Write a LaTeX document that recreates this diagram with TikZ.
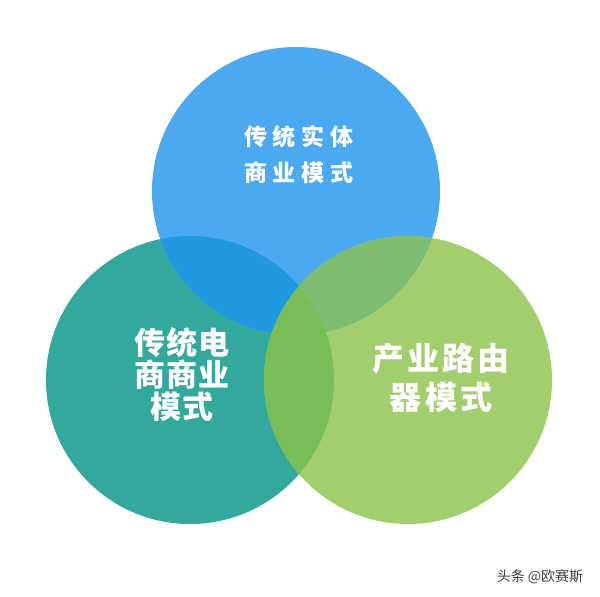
\documentclass[tikz,border=0pt]{standalone}
\usepackage{fontspec}
\newfontfamily\cjk{Noto Sans CJK SC}
\definecolor{cblue}{HTML}{4BA9F2}
\definecolor{cteal}{HTML}{33A89D}
\definecolor{cgreen}{HTML}{A3CE6D}
\definecolor{ctb}{HTML}{2199E0}
\definecolor{cbg}{HTML}{7EBD70}
\definecolor{ctg}{HTML}{79BD59}
\begin{document}
\begin{tikzpicture}[x=1pt,y=-1pt,
  lbl/.style={text=white,align=center,font=\cjk\bfseries},
  mark/.style={}]
\useasboundingbox (0,0) rectangle (600,597);
\def\r{144}
\coordinate (T) at (296,191);
\coordinate (L) at (190,380);
\coordinate (R) at (408,380);
\fill[cteal] (L) circle (\r);
\fill[cblue] (T) circle (\r);
\fill[cgreen] (R) circle (\r);
\begin{scope}
  \clip (L) circle (\r);
  \fill[ctb] (T) circle (\r);
\end{scope}
\begin{scope}
  \clip (T) circle (\r);
  \fill[cbg] (R) circle (\r);
\end{scope}
\begin{scope}
  \clip (L) circle (\r);
  \fill[ctg] (R) circle (\r);
\end{scope}
\node[lbl,font=\cjk\bfseries\addfontfeature{LetterSpace=26}\fontsize{23}{36}\selectfont] (tt) at (299,155) {传统实体\\商业模式};
\node[lbl,font=\cjk\bfseries\addfontfeature{LetterSpace=3}\fontsize{31}{32}\selectfont] (tl) at (182,375) {传统电\\商商业\\模式};
\node[lbl,font=\cjk\bfseries\addfontfeature{LetterSpace=10}\fontsize{32}{39}\selectfont] (tr) at (441,378) {产业路由\\器模式};
\node[text=black!75,font=\cjk\fontsize{14}{16}\selectfont] (wm) at (540,577) {头条 @欧赛斯};
\end{tikzpicture}
\end{document}
